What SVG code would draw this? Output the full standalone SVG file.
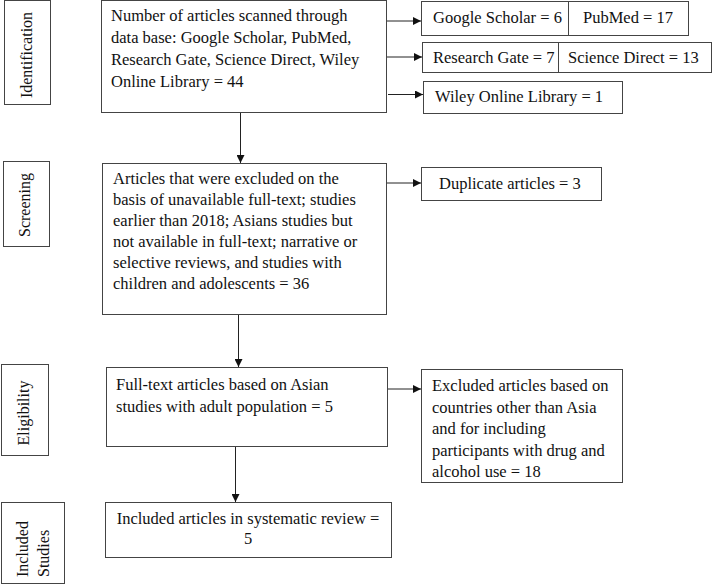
<svg xmlns="http://www.w3.org/2000/svg" width="718" height="584" viewBox="0 0 718 584">
<style>
text{font-family:"Liberation Serif","Times New Roman",serif;font-size:16.5px;fill:#111}
text.lbl{font-size:16px}
.box{fill:#fff;stroke:#444;stroke-width:1}
.con{fill:none;stroke:#222;stroke-width:1}
</style>
<defs>
<marker id="ah" viewBox="0 0 10 10" refX="10" refY="5" markerWidth="8" markerHeight="8" markerUnits="userSpaceOnUse" orient="auto">
<path d="M0,0 L10,5 L0,10 z" fill="#111"/>
</marker>
</defs>
<rect width="718" height="584" fill="#fff"/>

<g id="lbl-identification">
<rect class="box" x="4.5" y="0.5" width="46" height="104"/>
<text class="lbl" transform="translate(32,55) rotate(-90)" text-anchor="middle">Identification</text>
</g>
<g id="lbl-screening">
<rect class="box" x="3.5" y="161.5" width="46" height="85"/>
<text class="lbl" transform="translate(30,205) rotate(-90)" text-anchor="middle">Screening</text>
</g>
<g id="lbl-eligibility">
<rect class="box" x="1.5" y="364.5" width="47" height="91"/>
<text class="lbl" transform="translate(29,413) rotate(-90)" text-anchor="middle">Eligibility</text>
</g>
<g id="lbl-included">
<rect class="box" x="1.5" y="502.5" width="63" height="81"/>
<text class="lbl" transform="translate(28,577) rotate(-90)">Included</text>
<text class="lbl" transform="translate(49,577) rotate(-90)">Studies</text>
</g>

<g id="n-scanned">
<rect class="box" x="101.5" y="0.5" width="285" height="112"/>
<text x="111" y="21">Number of articles scanned through</text>
<text x="111" y="43">data base: Google Scholar, PubMed,</text>
<text x="111" y="65">Research Gate, Science Direct, Wiley</text>
<text x="111" y="87">Online Library = 44</text>
</g>
<g id="n-google-pubmed">
<rect class="box" x="421.5" y="1.5" width="267" height="34"/>
<line x1="568.5" y1="1.5" x2="568.5" y2="35.5" stroke="#444"/>
<text x="433" y="23">Google Scholar = 6</text>
<text x="583" y="23">PubMed = 17</text>
</g>
<g id="n-rg-sd">
<rect class="box" x="422.5" y="42.5" width="289" height="30"/>
<line x1="558.5" y1="42.5" x2="558.5" y2="72.5" stroke="#444"/>
<text x="433" y="63">Research Gate = 7</text>
<text x="568" y="63">Science Direct = 13</text>
</g>
<g id="n-wiley">
<rect class="box" x="423.5" y="81.5" width="199" height="32"/>
<text x="435" y="102">Wiley Online Library = 1</text>
</g>
<g id="n-screened">
<rect class="box" x="102.5" y="163.5" width="284" height="151"/>
<text x="113" y="184">Articles that were excluded on the</text>
<text x="113" y="205">basis of unavailable full-text; studies</text>
<text x="113" y="226">earlier than 2018; Asians studies but</text>
<text x="113" y="247">not available in full-text; narrative or</text>
<text x="113" y="268">selective reviews, and studies with</text>
<text x="113" y="289">children and adolescents = 36</text>
</g>
<g id="n-duplicate">
<rect class="box" x="421.5" y="167.5" width="180" height="33"/>
<text x="439" y="189">Duplicate articles = 3</text>
</g>
<g id="n-fulltext">
<rect class="box" x="106.5" y="367.5" width="281" height="79"/>
<text x="116" y="390">Full-text articles based on Asian</text>
<text x="116" y="412">studies with adult population = 5</text>
</g>
<g id="n-excluded">
<rect class="box" x="421.5" y="369.5" width="201" height="113"/>
<text x="432" y="391">Excluded articles based on</text>
<text x="432" y="412.5">countries other than Asia</text>
<text x="432" y="434">and for including</text>
<text x="432" y="455.5">participants with drug and</text>
<text x="432" y="477">alcohol use = 18</text>
</g>
<g id="n-included">
<rect class="box" x="105.5" y="502.5" width="286" height="55"/>
<text x="248" y="524" text-anchor="middle">Included articles in systematic review =</text>
<text x="248" y="544" text-anchor="middle">5</text>
</g>

<g id="connectors">
<line class="con" x1="387" y1="21" x2="421" y2="21" marker-end="url(#ah)"/>
<line class="con" x1="387" y1="57" x2="422" y2="57" marker-end="url(#ah)"/>
<line class="con" x1="388" y1="94.5" x2="423" y2="94.5" marker-end="url(#ah)"/>
<line class="con" x1="240.5" y1="113" x2="240.5" y2="163" marker-end="url(#ah)"/>
<line class="con" x1="387" y1="183" x2="421" y2="183" stroke="#777" marker-end="url(#ah)"/>
<line class="con" x1="238.5" y1="315" x2="238.5" y2="367" marker-end="url(#ah)"/>
<line class="con" x1="388" y1="389" x2="421" y2="389" marker-end="url(#ah)"/>
<line class="con" x1="235.5" y1="447" x2="235.5" y2="502" marker-end="url(#ah)"/>
</g>
</svg>
